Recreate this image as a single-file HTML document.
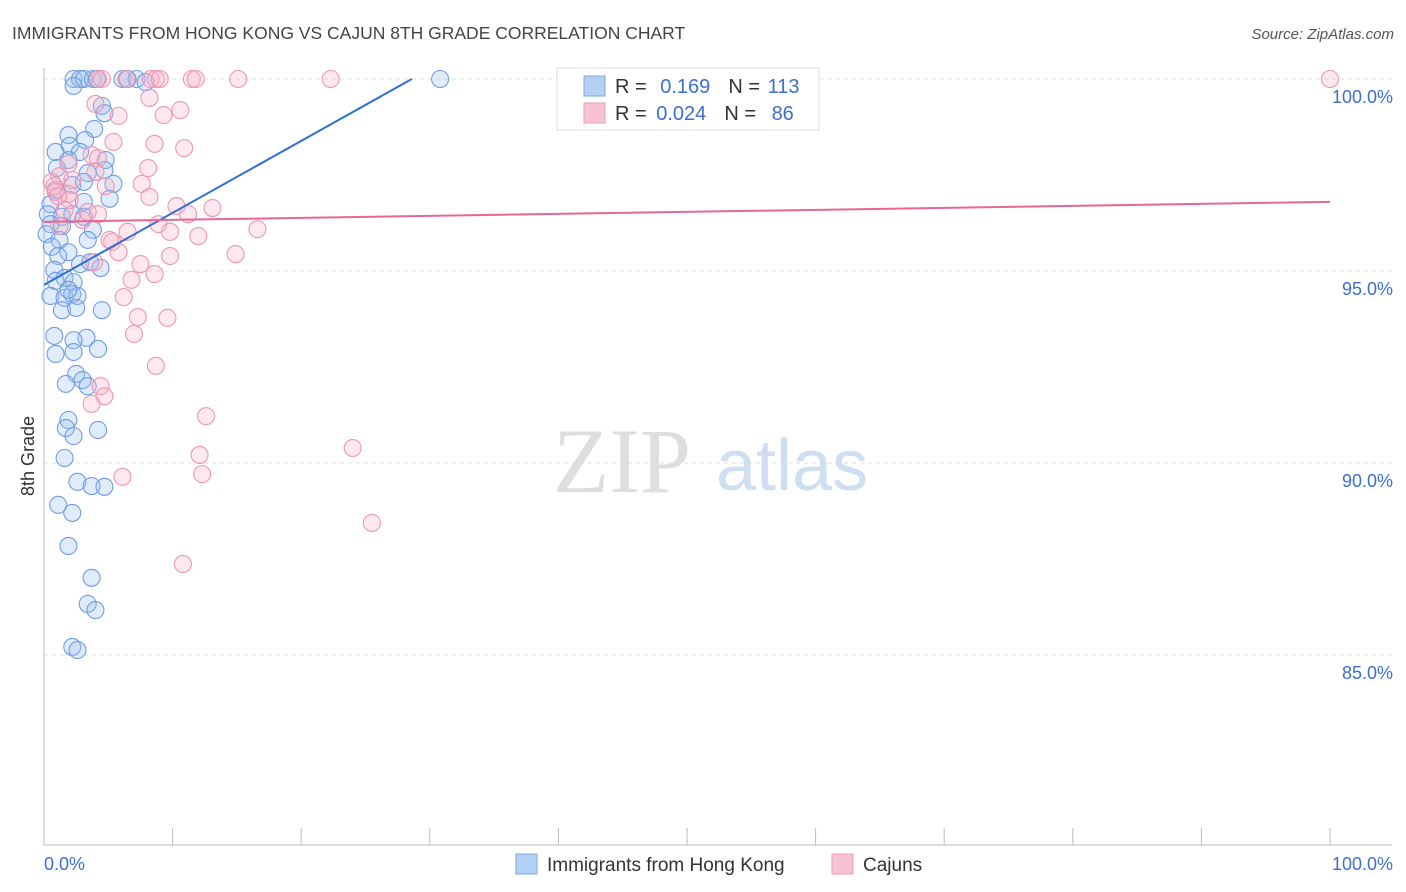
<!DOCTYPE html>
<html><head><meta charset="utf-8"><style>
body{margin:0;background:#fff;font-family:"Liberation Sans",sans-serif;}
svg{display:block}
</style></head><body>
<svg id="chart" width="1406" height="892">
<text x="12" y="39" font-size="17.5" fill="#444">IMMIGRANTS FROM HONG KONG VS CAJUN 8TH GRADE CORRELATION CHART</text>
<text x="1394" y="39" font-size="15" fill="#555" font-style="italic" text-anchor="end">Source: ZipAtlas.com</text>
<g>
<text x="553" y="492" font-size="92" fill="#dedede" font-family="Liberation Serif,serif">ZIP</text>
<text x="716" y="490" font-size="72" fill="#d0def2">atlas</text>
</g>
<g id="grid"></g>
<g id="axes"></g>
<g id="pts"></g>
<g id="lines"></g>
<g>
<rect x="557" y="68" width="262" height="62" fill="#fff" stroke="#ddd"/>
<rect x="584" y="76" width="21" height="20" fill="#b3cff3" stroke="#7fa7e2"/>
<rect x="584" y="103" width="21" height="20" fill="#f7c3d3" stroke="#ef9cb6"/>
<text x="615" y="93" font-size="20" fill="#333">R = <tspan fill="#3d6fd0" dx="8">0.169</tspan><tspan dx="18" fill="#333">N = </tspan><tspan fill="#3d6fd0" dx="2">113</tspan></text>
<text x="615" y="120" font-size="20" fill="#333">R = <tspan fill="#3d6fd0" dx="4">0.024</tspan><tspan dx="18" fill="#333">N = </tspan><tspan fill="#3d6fd0" dx="10">86</tspan></text>
</g>
<g>
<rect x="516" y="854" width="21" height="20" fill="#b3cff3" stroke="#7fa7e2"/>
<text x="547" y="871" font-size="19" fill="#333">Immigrants from Hong Kong</text>
<rect x="832" y="854" width="21" height="20" fill="#f7c3d3" stroke="#ef9cb6"/>
<text x="863" y="871" font-size="19" fill="#333">Cajuns</text>
</g>
<text transform="translate(34,456) rotate(-90)" font-size="18" fill="#333" text-anchor="middle">8th Grade</text>
</svg>
<script>
const blueX=[2.3,2.8,3.1,3.8,4.1,6.1,6.5,7.2,7.9,30.8,2.3,4.5,4.7,3.9,1.9,3.2,2.0,2.8,0.9,4.8,1.9,1.0,4.7,3.4,2.2,3.1,5.4,0.9,5.1,3.1,0.5,0.3,1.4,2.2,3.1,0.5,1.4,3.8,0.2,3.4,1.2,0.6,1.9,1.1,2.8,3.6,0.8,4.4,1.6,0.9,2.3,0.5,1.6,2.2,2.6,1.9,1.4,2.5,4.5,0.8,3.3,2.3,0.9,2.3,4.2,2.5,1.7,3.0,3.4,1.9,1.7,4.2,2.3,1.6,2.6,3.7,4.7,1.1,2.2,1.9,3.7,3.4,4.0,2.2,2.6];
const blueY=[100,100,100,100,100,100,100,100,99.92,100,99.82,99.3,99.11,98.7,98.54,98.41,98.26,98.1,98.1,97.89,97.89,97.68,97.63,97.55,97.24,97.32,97.27,97.11,96.88,96.8,96.74,96.48,96.41,96.48,96.41,96.22,96.17,96.07,95.96,95.81,95.81,95.63,95.49,95.39,95.18,95.23,95.03,95.08,94.82,94.74,94.71,94.35,94.3,94.4,94.35,94.51,93.98,94.04,93.98,93.31,93.26,93.2,92.84,92.89,92.97,92.32,92.06,92.16,92.0,91.12,90.91,90.86,90.7,90.13,89.51,89.4,89.38,88.91,88.7,87.84,87.01,86.33,86.17,85.21,85.13];
const pinkX=[4.2,4.5,6.4,8.3,8.7,9.0,11.5,11.8,15.1,22.3,100,8.2,4.0,10.6,9.3,5.8,5.4,8.6,10.9,3.7,4.2,1.9,8.1,4.0,1.2,0.6,4.8,7.6,0.9,1.9,8.2,2.0,10.3,13.1,11.2,4.2,1.6,3.0,1.2,8.9,12.0,16.6,9.8,6.5,5.3,5.8,3.9,9.8,14.9,7.5,8.6,6.8,6.2,7.3,9.6,7.0,8.7,4.4,4.7,3.7,12.6,24.0,12.1,12.3,6.1,25.5,10.8,0.8,1.1,2.2,3.4,5.1];
const pinkY=[100,100,100,100,100,100,100,100,100,100,100,99.51,99.35,99.19,99.06,99.04,98.36,98.31,98.2,98.02,97.94,97.79,97.68,97.58,97.47,97.32,97.21,97.27,97.06,97.01,96.93,96.85,96.69,96.64,96.48,96.48,96.59,96.33,96.17,96.22,95.91,96.09,96.02,96.02,95.76,95.49,95.23,95.39,95.44,95.18,94.92,94.77,94.32,93.8,93.78,93.36,92.53,92.0,91.74,91.54,91.22,90.39,90.21,89.71,89.64,88.44,87.37,97.21,96.95,97.37,96.54,95.81];
const blueLine=[94.64,0.1874];
const pinkLine=[96.28,0.0052];
const yTicks=[100,95,90,85];
const xTicks=[0,10,20,30,40,50,60,70,80,90,100];
const xs=v=>44+v*12.86, ys=v=>79+(100-v)*38.4;
const NS="http://www.w3.org/2000/svg";
function mk(tag,attrs,parent){const e=document.createElementNS(NS,tag);for(const k in attrs)e.setAttribute(k,attrs[k]);parent.appendChild(e);return e;}
const grid=document.getElementById('grid'),axes=document.getElementById('axes');
yTicks.forEach(t=>{
 const l=mk('line',{x1:44,x2:1392,y1:ys(t),y2:ys(t),stroke:'#ddd','stroke-dasharray':'4,4'},grid);
 
 
 const tx=mk('text',{x:1393,y:ys(t)+24,'font-size':18,fill:'#3d6fd0','text-anchor':'end'},axes);
 tx.textContent=t.toFixed(1)+'%';
 
 
});
const ax=mk('line',{x1:44,x2:1392,y1:845,y2:845,stroke:'#bbb'},axes);


const ay=mk('line',{x1:44,x2:44,y1:68,y2:845,stroke:'#bbb'},axes);


xTicks.forEach(t=>{
 const l=mk('line',{x1:xs(t),x2:xs(t),y1:828,y2:845,stroke:'#bbb'},axes);
 
 
});
[[0,'start',44],[100,'end',1393]].forEach(([v,a,x])=>{
 const tx=mk('text',{x:x,y:870,'font-size':18,fill:'#3d6fd0','text-anchor':a},axes);
 tx.textContent=v.toFixed(1)+'%';
 
 
});
const pts=document.getElementById('pts');
function series(X,Y,fill,stroke,name){X.forEach((x,i)=>{
 const c=mk('circle',{cx:xs(x),cy:ys(Y[i]),r:8.5,fill:fill,'fill-opacity':0.3,stroke:stroke,'stroke-width':1.1},pts);
 
 
});}
series(blueX,blueY,'#9cbfee','#6f9de2','point-hong-kong');
series(pinkX,pinkY,'#f6b3c8','#ee96b2','point-cajun');
const lines=document.getElementById('lines');
const bxEnd=(100-blueLine[0])/blueLine[1];
const bl=mk('line',{x1:xs(0),y1:ys(blueLine[0]),x2:xs(bxEnd),y2:ys(100),stroke:'#2f6fd6','stroke-width':2},lines);


const pl=mk('line',{x1:xs(0),y1:ys(pinkLine[0]),x2:xs(100),y2:ys(pinkLine[0]+pinkLine[1]*100),stroke:'#e8668f','stroke-width':2},lines);


</script>
</body></html>
